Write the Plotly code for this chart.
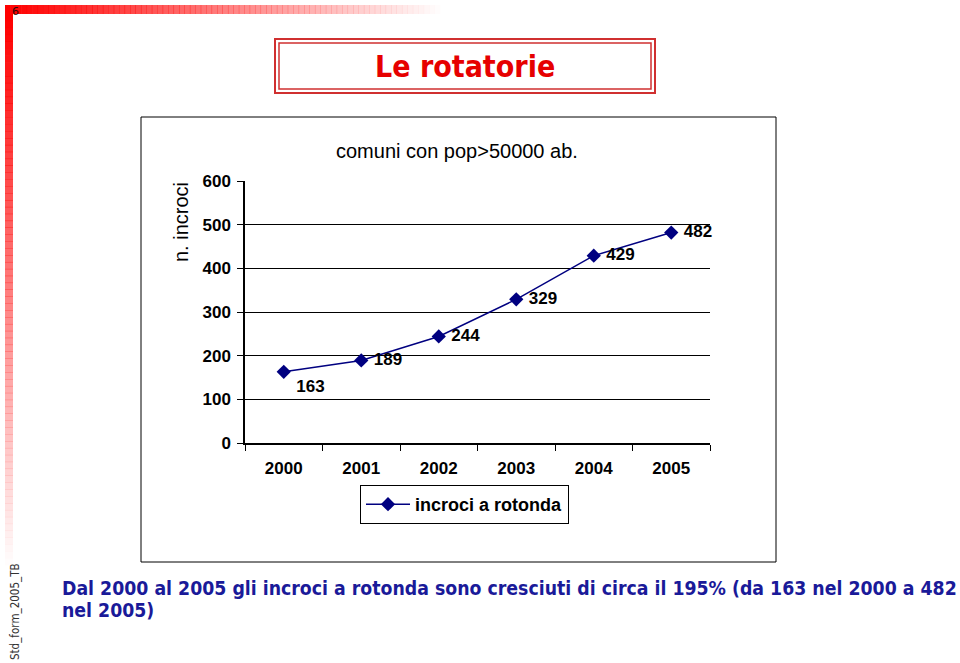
import plotly.graph_objects as go

years = ["2000", "2001", "2002", "2003", "2004", "2005"]
values = [163, 189, 244, 329, 429, 482]
label_pos = ["bottom right", "middle right", "middle right", "middle right", "middle right", "middle right"]
y_ticks = [0, 100, 200, 300, 400, 500, 600]

W, H = 960, 663


def px(x):
    return x / W


def py(y):
    return 1 - y / H


fig = go.Figure()
fig.add_trace(go.Scatter(
    x=years, y=values, mode="lines+markers+text",
    name="incroci a rotonda",
    line=dict(color="#000080", width=1.5),
    marker=dict(symbol="diamond", size=11, color="#000080"),
    text=[" " + str(v) for v in values], textposition=label_pos,
    textfont=dict(family="Liberation Sans, Arial", size=17, color="black", weight="bold"),
    cliponaxis=False,
))

shapes = []
# gradient decorations
n = 80
for i in range(n):
    a = 1 - i / n
    x0 = 5 + i * (440 - 5) / n
    x1 = 5 + (i + 1) * (440 - 5) / n
    shapes.append(dict(type="rect", xref="paper", yref="paper", x0=px(x0), x1=px(x1 + 0.5),
                       y0=py(14), y1=py(5), line=dict(width=0),
                       fillcolor=f"rgba(255,0,0,{a:.3f})", layer="below"))
for i in range(n):
    a = 1 - i / n
    y0 = 14 + i * (565 - 14) / n
    y1 = 14 + (i + 1) * (565 - 14) / n
    shapes.append(dict(type="rect", xref="paper", yref="paper", x0=px(5), x1=px(13),
                       y0=py(y1 + 0.5), y1=py(y0), line=dict(width=0),
                       fillcolor=f"rgba(255,0,0,{a:.3f})", layer="below"))
# title double box
shapes.append(dict(type="rect", xref="paper", yref="paper", x0=px(275), x1=px(655), y0=py(93), y1=py(39),
                   line=dict(color="#d03030", width=2)))
shapes.append(dict(type="rect", xref="paper", yref="paper", x0=px(279), x1=px(651), y0=py(89), y1=py(43),
                   line=dict(color="#d03030", width=1.5)))
# chart box
shapes.append(dict(type="rect", xref="paper", yref="paper", x0=px(141), x1=px(776), y0=py(562), y1=py(117),
                   line=dict(color="black", width=1), layer="below"))


def ann(text, x, y, size, color="black", family="Liberation Sans, Arial", weight="normal",
        xanchor="center", yanchor="middle", angle=0):
    return dict(text=text, x=px(x), y=py(y), xref="paper", yref="paper", showarrow=False,
                xanchor=xanchor, yanchor=yanchor, textangle=angle, align="left",
                font=dict(family=family, size=size, color=color, weight=weight))


tahoma = "DejaVu Sans Condensed, DejaVu Sans"
annotations = [
    ann("Le rotatorie", 465, 67, 30, "#e60000", tahoma, "bold"),
    ann("comuni con pop>50000 ab.", 457, 151, 20),
    ann("n. incroci", 181, 222, 20, angle=-90),
    ann("6", 15, 11, 11, "#300808", "DejaVu Sans"),
    ann("Std_form_2005_TB", 15, 612, 11.5, "#333333", tahoma, angle=-90),
    ann("Dal 2000 al 2005 gli incroci a rotonda sono cresciuti di circa il 195% (da 163 nel 2000 a 482",
        60, 588, 19.3, "#1a1a99", tahoma, "bold", xanchor="left"),
    ann("nel 2005)", 60, 610, 19.3, "#1a1a99", tahoma, "bold", xanchor="left"),
]

fig.update_layout(
    width=W, height=H, margin=dict(l=0, r=0, t=0, b=0, autoexpand=False),
    paper_bgcolor="white", plot_bgcolor="white",
    shapes=shapes, annotations=annotations,
    showlegend=True,
    legend=dict(x=px(360), y=py(485), xanchor="left", yanchor="top",
                bordercolor="black", borderwidth=1, bgcolor="white",
                font=dict(family="Liberation Sans, Arial", size=18, color="black", weight="bold"),
                itemwidth=44),
    xaxis=dict(domain=[px(245), px(710)], type="category", range=[-0.5, 5.5],
               tickson="boundaries", ticks="outside", ticklen=6, tickcolor="black", tickwidth=1.3,
               ticklabelstandoff=9,
               showline=True, linecolor="black", linewidth=1.5, showgrid=False, zeroline=False,
               tickfont=dict(family="Liberation Sans, Arial", size=17, color="black", weight="bold")),
    yaxis=dict(domain=[py(443), py(181)], range=[0, 600], tickvals=y_ticks,
               ticks="outside", ticklen=6, tickcolor="black", tickwidth=1.3,
               ticklabelstandoff=3,
               showline=True, linecolor="black", linewidth=1.5,
               showgrid=True, gridcolor="black", gridwidth=1.2, zeroline=False,
               tickfont=dict(family="Liberation Sans, Arial", size=17, color="black", weight="bold")),
)

fig.write_html("out.html")
